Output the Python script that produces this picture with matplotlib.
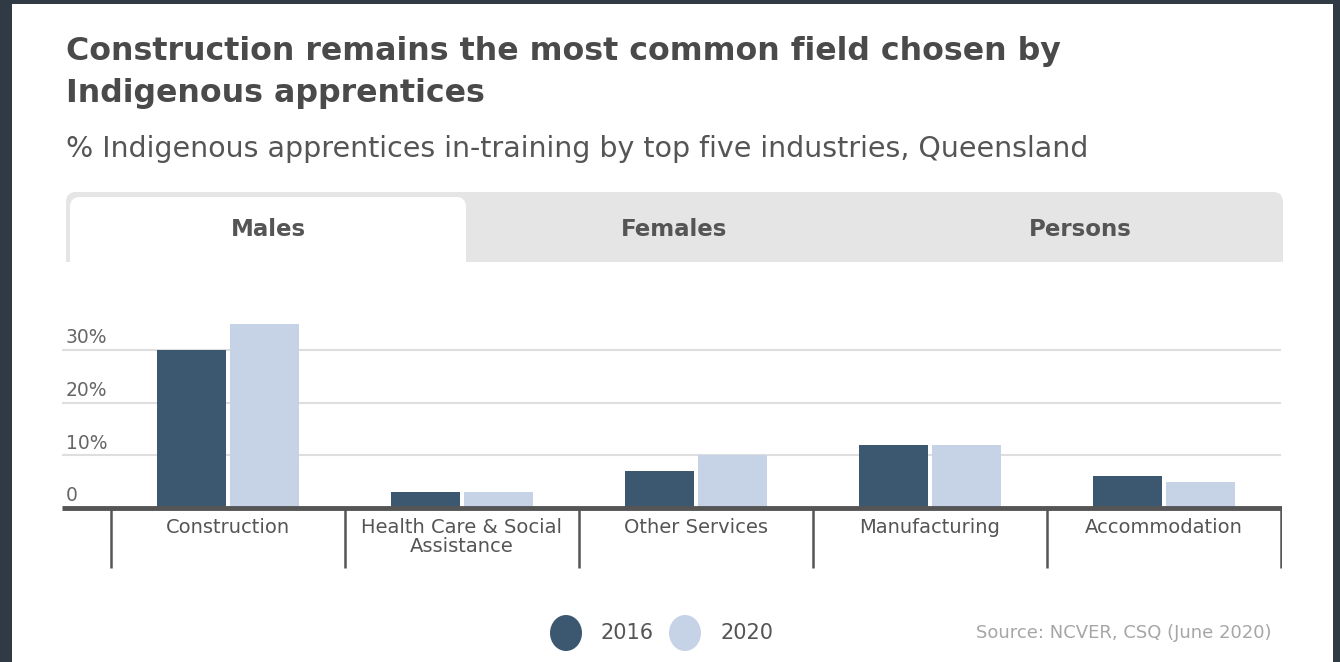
import numpy as np
import matplotlib
matplotlib.use('Agg')
import matplotlib.pyplot as plt
from matplotlib.patches import Rectangle, FancyBboxPatch, Ellipse

W, H = 1340, 662

## Data

industries = ['Construction', 'Health Care & Social\nAssistance', 'Other Services',
              'Manufacturing', 'Accommodation']
pct_2016 = [30, 3, 7, 12, 6]
pct_2020 = [35, 3, 10, 12, 5]
years = ['2016', '2020']
y_ticks = [0, 10, 20, 30]
y_labels = ['0', '10%', '20%', '30%']
tabs = ['Males', 'Females', 'Persons']

## Style

DARK = '#3c5871'
LIGHT = '#c6d3e7'
TXT = '#555555'
PX_PER_PCT = 5.27   # vertical pixels per percentage point

fig = plt.figure(figsize=(W / 100, H / 100), dpi=100)
fig.patch.set_facecolor('#2f3a45')

# background layer in pixel units (y down)
bg = fig.add_axes([0, 0, 1, 1])
bg.set_xlim(0, W)
bg.set_ylim(H, 0)
bg.axis('off')
bg.add_patch(Rectangle((12, 4), 1321, 680, fc='white', ec='none'))

# title + subtitle
bg.text(66, 36, 'Construction remains the most common field chosen by\nIndigenous apprentices',
        fontsize=22.8, fontweight='bold', color='#4a4a4a', va='top', linespacing=1.45)
bg.text(66, 149, '% Indigenous apprentices in-training by top five industries, Queensland',
        fontsize=20.5, color=TXT, va='center')

# tab strip
bg.add_patch(FancyBboxPatch((66, 192), 1217, 80, boxstyle='round,pad=0,rounding_size=10',
                            fc='#e5e5e5', ec='none'))
bg.add_patch(FancyBboxPatch((70, 197), 396, 80, boxstyle='round,pad=0,rounding_size=10',
                            fc='white', ec='none'))
bg.add_patch(Rectangle((60, 262), 1232, 20, fc='white', ec='none'))
tab_w = 1217 / len(tabs)
for i, t in enumerate(tabs):
    bg.text(66 + tab_w * (i + 0.5), 229, t, ha='center', va='center',
            fontsize=16.5, fontweight='bold', color=TXT)

# legend
for xc, yr, col in zip([566, 685], years, [DARK, LIGHT]):
    bg.add_patch(Ellipse((xc, 633), 32, 36, fc=col, ec='none'))
    bg.text(xc + 35, 633, yr, va='center', fontsize=15, color=TXT)

bg.text(1272, 633, 'Source: NCVER, CSQ (June 2020)', ha='right', va='center',
        fontsize=13, color='#a6a6a6')

# bar chart
top_px, bot_px, zero_px = 270, 580, 508
ax = fig.add_axes([62 / W, 1 - bot_px / H, 1220 / W, (bot_px - top_px) / H])
ax.patch.set_alpha(0)
ax.axis('off')
x_lo, x_hi = -0.709, 4.504
ax.set_xlim(x_lo, x_hi)
ax.set_ylim(-(bot_px - zero_px) / PX_PER_PCT, (zero_px - top_px) / PX_PER_PCT)

x = np.arange(len(industries))
ax.bar(x - 0.157, pct_2016, 0.296, color=DARK, zorder=3)
ax.bar(x + 0.157, pct_2020, 0.296, color=LIGHT, zorder=3)

for t, lab in zip(y_ticks, y_labels):
    if t > 0:
        ax.hlines(t, x_lo, 4.5, color='#dedede', lw=1.5, zorder=1)
    ax.text(x_lo + 0.015, t + 0.5, lab, va='bottom', ha='left', fontsize=13.5, color='#666666')

ax.hlines(0, x_lo, x_hi, color='#555555', lw=3.5, zorder=4)
ax.vlines(np.arange(len(industries) + 1) - 0.5, -60 / PX_PER_PCT, 0, color='#555555', lw=1.8)

for i, name in enumerate(industries):
    ax.text(i, -1.9, name, ha='center', va='top', fontsize=14, color=TXT, linespacing=1.0)

fig.savefig('out.png', dpi=100, facecolor=fig.get_facecolor())
